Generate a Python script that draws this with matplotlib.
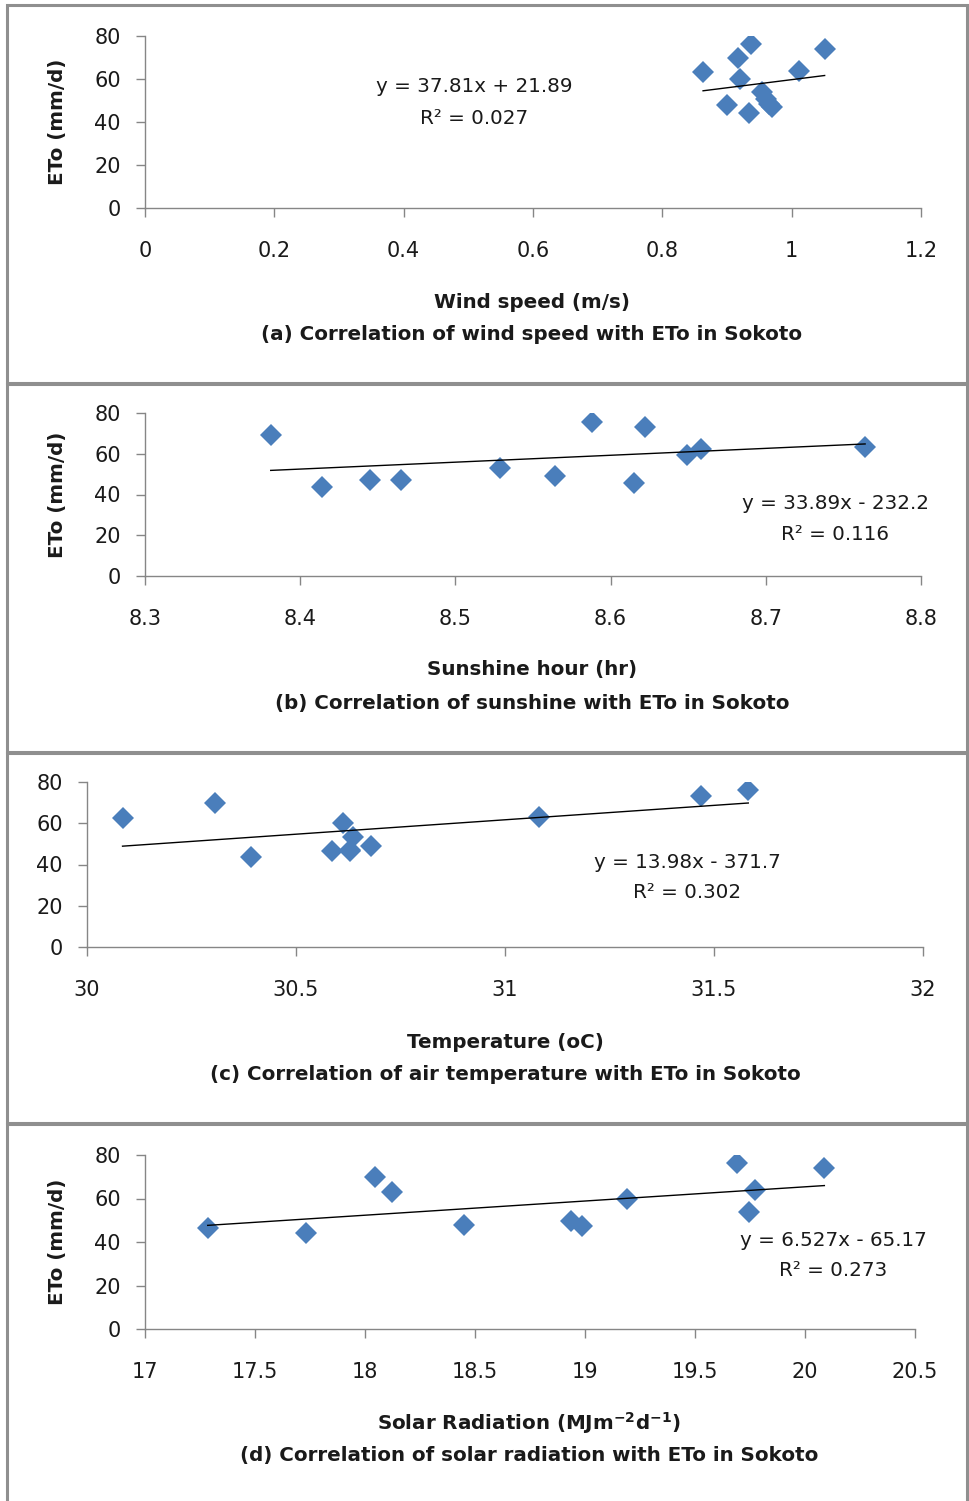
import numpy as np
import matplotlib.pyplot as plt
from matplotlib.patches import Rectangle
from matplotlib.ticker import FuncFormatter

plt.rcParams['font.family'] = ['DejaVu Sans']
plt.rcParams['mathtext.fontset'] = 'dejavusans'

# monthly values, Sokoto
wind = [0.863, 0.917, 0.937, 0.920, 0.900, 0.934, 0.954, 0.961, 0.969, 0.965, 1.012, 1.051]
eto_wind = [63.1, 69.9, 76.3, 60.0, 47.9, 44.3, 54.1, 50.6, 46.8, 48.5, 63.9, 74.0]

sunshine = [8.381, 8.414, 8.445, 8.465, 8.529, 8.564, 8.588, 8.622, 8.615, 8.649, 8.658, 8.764]
eto_sun = [69.2, 43.8, 47.1, 47.0, 53.2, 48.9, 75.4, 73.1, 45.8, 59.4, 62.3, 63.2]

temp = [30.085, 30.306, 30.392, 30.585, 30.612, 30.628, 30.636, 30.679, 31.081, 31.469, 31.582, 30.628]
eto_temp = [62.7, 69.7, 43.8, 46.5, 60.0, 46.5, 53.5, 49.1, 63.2, 73.4, 76.1, 46.8]

solar = [17.285, 17.730, 18.045, 18.123, 18.451, 18.936, 18.985, 19.192, 19.690, 19.773, 19.747, 20.088]
eto_solar = [46.4, 44.1, 69.9, 63.0, 47.7, 49.8, 47.2, 59.9, 76.3, 63.8, 53.8, 74.0]

# linear trend lines (slope, intercept, R2)
slopes = [37.81, 33.89, 13.98, 6.527]
intercepts = [21.89, -232.2, -371.7, -65.17]
r2_text = ['0.027', '0.116', '0.302', '0.273']

xlabels = ['Wind speed (m/s)', 'Sunshine hour (hr)', 'Temperature (oC)',
           r'Solar Radiation (MJm$^{\mathbf{-2}}$d$^{\mathbf{-1}}$)']
titles = ['(a) Correlation of wind speed with ETo in Sokoto',
          '(b) Correlation of sunshine with ETo in Sokoto',
          '(c) Correlation of air temperature with ETo in Sokoto',
          '(d) Correlation of solar radiation with ETo in Sokoto']
xlims = [(0, 1.2), (8.3, 8.8), (30, 32), (17, 20.5)]
xsteps = [0.2, 0.1, 0.5, 0.5]

W, H = 969, 1501
def fx(px):
    return px / W
def fy(py):
    return 1 - py / H

fig = plt.figure(figsize=(W / 100, H / 100), dpi=100)

# panel frames
panels = [(7, 5, 383), (7, 384, 752), (7, 753, 1123), (7, 1124, 1510)]
for l, t, b in panels:
    fig.add_artist(Rectangle((fx(l), fy(b)), (967 - l) / W, (b - t) / H,
                             transform=fig.transFigure, fill=False,
                             ec='#8f8f8f', lw=2.2))

# axes boxes in pixels: left, top, right, bottom
boxes = [(145, 36, 921, 208), (145, 413, 921, 576), (87, 782, 923, 947), (145, 1155, 915, 1329)]
eq_pos = [(474, 87), (835, 504), (687, 862), (833, 1240)]
label_y = [(302, 334), (670, 703), (1042, 1074), (1423, 1456)]
label_x = [532, 532, 505, 529]
show_ylabel = [True, True, False, True]

xs = [wind, sunshine, temp, solar]
ys = [eto_wind, eto_sun, eto_temp, eto_solar]

txt = '#1a1a1a'
fs = 14.3
for i in range(4):
    l, t, r, b = boxes[i]
    ax = fig.add_axes([fx(l), fy(b), (r - l) / W, (b - t) / H])
    ax.plot(xs[i], ys[i], 'D', color='#4a7ebb', markersize=10.8, markeredgewidth=0)
    xx = np.array([min(xs[i]), max(xs[i])])
    ax.plot(xx, slopes[i] * xx + intercepts[i], color='black', lw=1.0)

    ax.set_xlim(*xlims[i])
    ax.set_ylim(0, 80)
    ax.set_xticks(np.arange(xlims[i][0], xlims[i][1] + 1e-9, xsteps[i]))
    ax.set_yticks(np.arange(0, 81, 20))
    ax.xaxis.set_major_formatter(FuncFormatter(lambda v, p: '%g' % round(v, 3)))
    for s in ['top', 'right']:
        ax.spines[s].set_visible(False)
    for s in ['left', 'bottom']:
        ax.spines[s].set_color('#868686')
        ax.spines[s].set_linewidth(1.0)
    ax.tick_params(axis='both', direction='out', length=6.5, width=1.0,
                   color='#868686', labelcolor=txt, labelsize=15)
    ax.tick_params(axis='x', pad=17.5)
    ax.tick_params(axis='y', pad=11)
    ax.patch.set_alpha(0)

    sign = '+' if intercepts[i] >= 0 else '-'
    ex, ey = eq_pos[i]
    fig.text(fx(ex), fy(ey), 'y = %gx %s %g' % (slopes[i], sign, abs(intercepts[i])),
             ha='center', va='center', fontsize=fs, color=txt)
    fig.text(fx(ex), fy(ey + 31), 'R\u00b2 = ' + r2_text[i],
             ha='center', va='center', fontsize=fs, color=txt)

    fig.text(fx(label_x[i]), fy(label_y[i][0]), xlabels[i], ha='center', va='center',
             fontsize=fs, fontweight='bold', color=txt)
    fig.text(fx(label_x[i]), fy(label_y[i][1]), titles[i], ha='center', va='center',
             fontsize=fs, fontweight='bold', color=txt)
    if show_ylabel[i]:
        fig.text(fx(58), fy((t + b) / 2), 'ETo (mm/d)', rotation=90, ha='center',
                 va='center', fontsize=fs, fontweight='bold', color=txt)

fig.savefig('out.png', dpi=100, facecolor='white')
